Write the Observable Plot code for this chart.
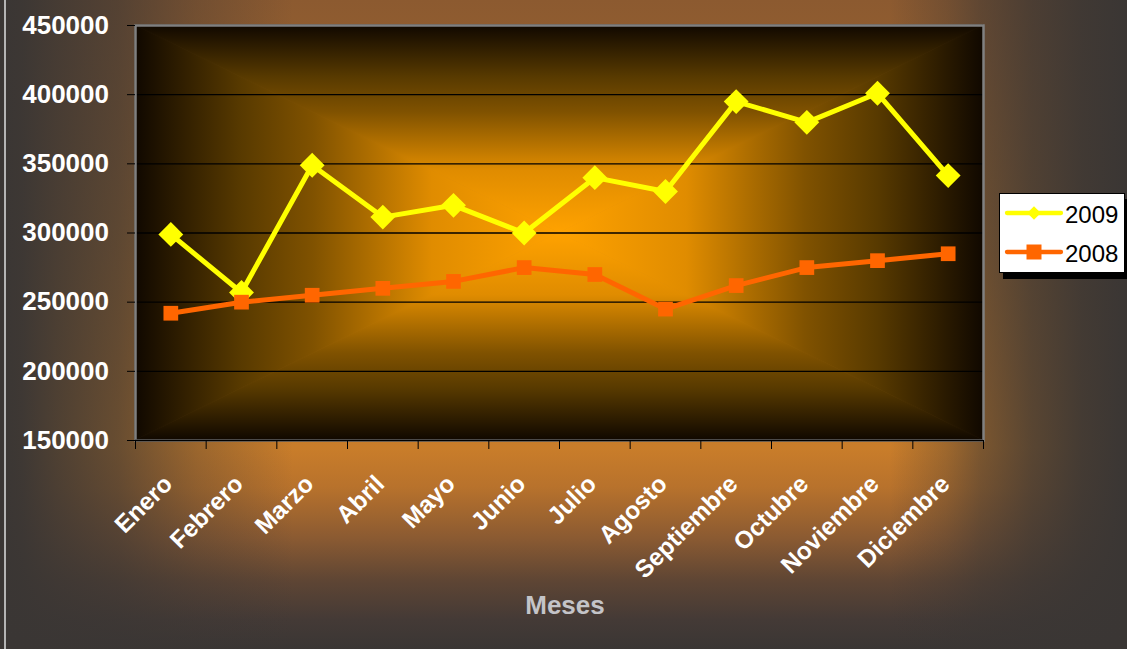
<!DOCTYPE html>
<html>
<head>
<meta charset="utf-8">
<script src="https://cdn.jsdelivr.net/npm/d3@7"></script>
<script src="https://cdn.jsdelivr.net/npm/@observablehq/plot@0.6"></script>
<style>
  html, body { margin: 0; padding: 0; background: #3a3634; }
  #wrap {
    position: relative; width: 1127px; height: 649px; overflow: hidden;
    font-family: "Liberation Sans", Arial, sans-serif;
    background:
      linear-gradient(to right, rgba(58,54,52,1) 0%, rgba(58,54,52,0.97) 2%, rgba(58,54,52,0.86) 5%, rgba(58,54,52,0.68) 10.5%, rgba(58,54,52,0.32) 17.5%, rgba(58,54,52,0) 26%, rgba(58,54,52,0) 79%, rgba(58,54,52,0.3) 84%, rgba(58,54,52,0.55) 87%, rgba(58,54,52,0.78) 91.5%, rgba(58,54,52,0.93) 96%, rgba(58,54,52,1) 100%),
      linear-gradient(to bottom, #8c5a30 0%, #a56a2e 35%, #c47a2a 62%, #c97d2a 69%, #b8722c 75%, #8a5a32 83%, #5e4534 89.5%, #443a36 95.5%, #3a3634 100%);
  }
  #border { position: absolute; left: 4px; top: 0; width: 1.5px; height: 649px; background: #b4b4b4; }
  #wrap svg { position: absolute; left: 0; top: 0; }
</style>
</head>
<body>
<div id="wrap"><div id="border"></div></div>
<script>
// ---- data ----
const months = ["Enero", "Febrero", "Marzo", "Abril", "Mayo", "Junio", "Julio", "Agosto", "Septiembre", "Octubre", "Noviembre", "Diciembre"];
const values2009 = [299000, 257000, 349000, 311500, 320000, 300000, 340000, 330000, 395000, 380000, 401000, 341500];
const values2008 = [242000, 250000, 255000, 260000, 265000, 275000, 270000, 245000, 262000, 275000, 280000, 285000];
const seriesNames = ["2009", "2008"];
const seriesColors = ["#FFFF00", "#FF6600"];
const seriesSymbols = ["diamond2", "square"];
const yTicks = [150000, 200000, 250000, 300000, 350000, 400000, 450000];
const xTitle = "Meses";

const rows2009 = months.map((m, i) => ({i, month: m, serie: seriesNames[0], value: values2009[i]}));
const rows2008 = months.map((m, i) => ({i, month: m, serie: seriesNames[1], value: values2008[i]}));
const idx = d3.range(months.length);
const bounds = d3.range(months.length + 1).map(k => k - 0.5);

// rectangular "from center" gradient for the plot area
const gradStops = [[0, "#100800"], [0.25, "#583a00"], [0.42, "#805200"], [0.7, "#e08c00"], [1, "#FFA200"]];
function plotBackground(index, scales, values, dims) {
  const x0 = dims.marginLeft, x1 = dims.width - dims.marginRight;
  const y0 = dims.marginTop, y1 = dims.height - dims.marginBottom;
  const cx = (x0 + x1) / 2, cy = (y0 + y1) / 2;
  const g = d3.create("svg:g");
  const defs = g.append("defs");
  const parts = [
    {id: "gT", g: [cx, y0, cx, cy], p: [[x0, y0], [x1, y0], [cx, cy]]},
    {id: "gB", g: [cx, y1, cx, cy], p: [[x0, y1], [x1, y1], [cx, cy]]},
    {id: "gL", g: [x0, cy, cx, cy], p: [[x0, y0], [x0, y1], [cx, cy]]},
    {id: "gR", g: [x1, cy, cx, cy], p: [[x1, y0], [x1, y1], [cx, cy]]}
  ];
  for (const part of parts) {
    const lg = defs.append("linearGradient").attr("id", part.id).attr("gradientUnits", "userSpaceOnUse")
      .attr("x1", part.g[0]).attr("y1", part.g[1]).attr("x2", part.g[2]).attr("y2", part.g[3]);
    for (const [o, c] of gradStops) lg.append("stop").attr("offset", o).attr("stop-color", c);
  }
  for (const part of parts) {
    g.append("polygon").attr("points", part.p.map(d => d.join(",")).join(" "))
      .attr("fill", `url(#${part.id})`).attr("stroke", `url(#${part.id})`).attr("stroke-width", 0.8);
  }
  return g.node();
}

const chart = Plot.plot({
  width: 1127,
  height: 649,
  marginLeft: 135,
  marginRight: 144,
  marginTop: 25,
  marginBottom: 209,
  style: {background: "transparent", fontFamily: "'Liberation Sans', Arial, sans-serif", overflow: "visible"},
  x: {type: "linear", domain: [-0.5, 11.5], axis: null},
  y: {domain: [150000, 450000], axis: null},
  color: {domain: seriesNames, range: seriesColors},
  marks: [
    plotBackground,
    Plot.ruleY(yTicks.slice(1, -1), {stroke: "#000", strokeWidth: 1.3}),
    Plot.frame({stroke: "#808080", strokeWidth: 2.5}),
    Plot.ruleY([150000], {stroke: "#000", strokeWidth: 1.3}),
    Plot.axisY(yTicks, {
      tickSize: 8, tickPadding: 18.5, tickFormat: d3.format("d"), label: null,
      fontSize: 26, fontWeight: "bold", fill: "#ffffff", stroke: "#000"
    }),
    Plot.axisX(bounds, {tickSize: 9, tickFormat: () => "", label: null, stroke: "#000"}),
    Plot.text(idx, {
      x: d => d, text: d => months[d], frameAnchor: "bottom", rotate: -45,
      textAnchor: "end", lineAnchor: "bottom", dx: 3, dy: 45,
      fill: "#ffffff", fontSize: 24.5, fontWeight: "bold"
    }),
    Plot.text([xTitle], {
      frameAnchor: "bottom", text: d => d, lineAnchor: "bottom", dx: 5.5, dy: 173,
      fill: "#c4c4c8", fontSize: 26, fontWeight: "bold"
    }),
    Plot.line(rows2009, {x: "i", y: "value", stroke: "serie", strokeWidth: 5}),
    Plot.dot(rows2009, {x: "i", y: "value", fill: "serie", symbol: seriesSymbols[0], r: 11.2}),
    Plot.line(rows2008, {x: "i", y: "value", stroke: "serie", strokeWidth: 5}),
    Plot.dot(rows2008, {x: "i", y: "value", fill: "serie", symbol: seriesSymbols[1], r: 8.3})
  ]
});
document.getElementById("wrap").appendChild(chart);

// legend
const legend = d3.select("#wrap").append("div")
  .style("position", "absolute").style("left", "999px").style("top", "193px")
  .style("width", "126px").style("height", "80px").style("box-sizing", "border-box")
  .style("background", "#fff").style("border", "1px solid #000")
  .style("box-shadow", "4px 6px 0 #000");
const lsvg = legend.append("svg").attr("width", 124).attr("height", 78)
  .style("position", "absolute").style("left", "0").style("top", "0");
seriesNames.forEach((name, k) => {
  const cy = 19 + k * 39;
  lsvg.append("line").attr("x1", 7).attr("x2", 61).attr("y1", cy).attr("y2", cy)
    .attr("stroke", seriesColors[k]).attr("stroke-width", 4.3).attr("stroke-linecap", "round");
  const sym = seriesSymbols[k] === "square" ? d3.symbolSquare : d3.symbolDiamond2;
  const size = seriesSymbols[k] === "square" ? 15 * 15 : Math.pow(13.5 / (2 * 0.62625), 2);
  lsvg.append("path").attr("d", d3.symbol(sym, size)()).attr("transform", `translate(34,${cy})`)
    .attr("fill", seriesColors[k]);
  lsvg.append("text").attr("x", 65).attr("y", cy + 9.5).attr("font-size", 24)
    .attr("font-family", "'Liberation Sans', Arial, sans-serif").attr("fill", "#000").text(name);
});
</script>
</body>
</html>
